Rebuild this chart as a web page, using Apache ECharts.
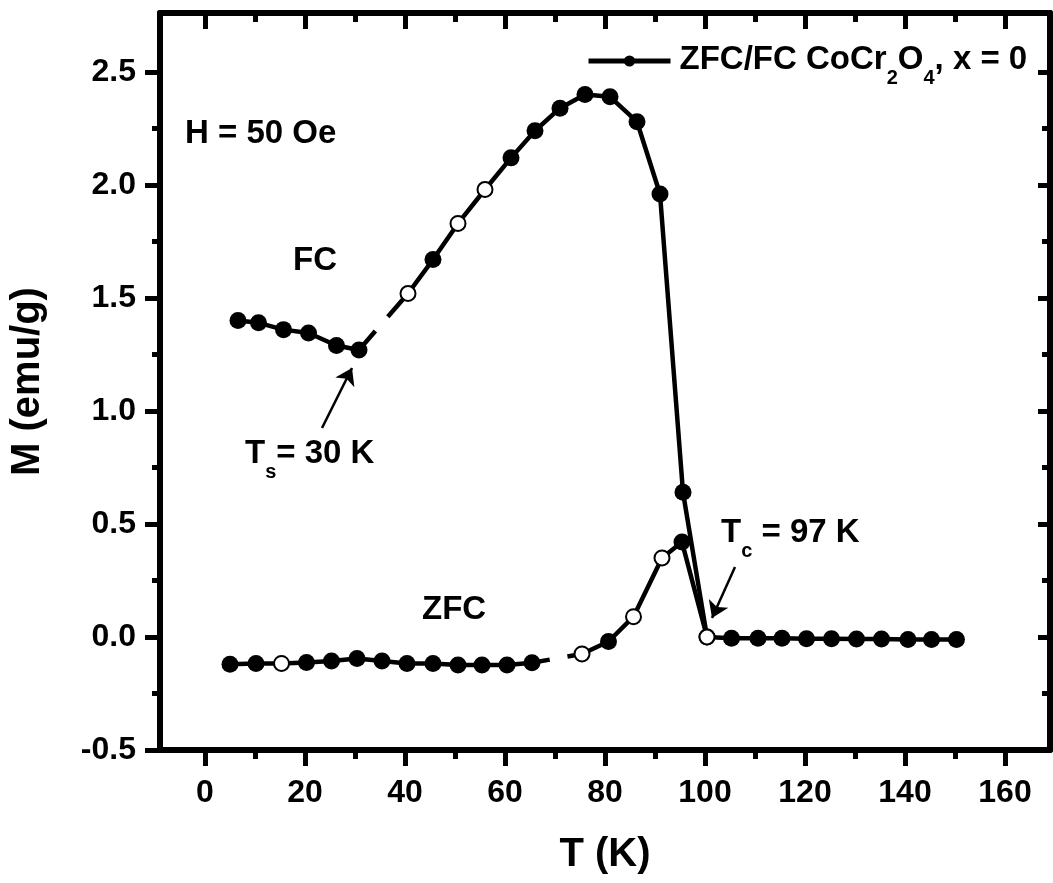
<!DOCTYPE html>
<html>
<head>
<meta charset="utf-8">
<script src="https://cdn.jsdelivr.net/npm/echarts@6/dist/echarts.min.js"></script>
<style>
  html, body { margin: 0; padding: 0; background: #fff; }
  #main { width: 1053px; height: 883px; }
</style>
</head>
<body>
<div id="main"></div>
<script>
// FC branch (T in K, M in emu/g)
var tempFC = [6.6, 10.7, 15.7, 20.7, 26.3, 30.8, 40.6, 45.6, 50.6, 56.0, 61.2, 66.0, 71.0, 76.0, 81.0, 86.4, 91.0, 95.6, 100.4];
var magFC  = [1.40, 1.39, 1.36, 1.345, 1.29, 1.27, 1.52, 1.67, 1.83, 1.98, 2.12, 2.24, 2.34, 2.40, 2.39, 2.28, 1.96, 0.64, 0.0];
var openFC = [6, 8, 9];          // hollow looking markers

// ZFC branch
var tempZFC = [5.0, 10.2, 15.3, 20.3, 25.3, 30.4, 35.4, 40.4, 45.6, 50.6, 55.4, 60.4, 65.4, 75.4, 80.7, 85.7, 91.4, 95.4, 100.4];
var magZFC  = [-0.121, -0.117, -0.117, -0.113, -0.106, -0.095, -0.106, -0.117, -0.117, -0.124, -0.124, -0.124, -0.114, -0.075, -0.02, 0.09, 0.35, 0.42, 0.0];
var openZFC = [2, 13, 15, 16, 18];

// paramagnetic tail above Tc
var tempTail = [105.3, 110.6, 115.4, 120.3, 125.3, 130.3, 135.3, 140.6, 145.3, 150.3];
var magTail  = [-0.006, -0.006, -0.006, -0.008, -0.008, -0.009, -0.009, -0.011, -0.011, -0.011];

// ticks
var xTicks = [0, 20, 40, 60, 80, 100, 120, 140, 160];
var xMinor = [10, 30, 50, 70, 90, 110, 130, 150];
var yTicks = [-0.5, 0, 0.5, 1.0, 1.5, 2.0, 2.5];
var yMinor = [-0.25, 0.25, 0.75, 1.25, 1.75, 2.25];

// arrows (data coords)
var arrowTs = [[23.4, 0.925], [29.4, 1.19]];
var arrowTc = [[106.0, 0.31], [101.4, 0.084]];

var FONT = 'Liberation Sans, Arial, sans-serif';
var seriesName = 'ZFC/FC CoCr2O4, x = 0';

function pts(ts, ms, open) {
  return ts.map(function (t, i) {
    if (open.indexOf(i) >= 0) {
      return { value: [t, ms[i]], symbolSize: 15,
        itemStyle: { color: '#fff', borderColor: '#000', borderWidth: 2 } };
    }
    return { value: [t, ms[i]] };
  });
}

var fcData = pts(tempFC, magFC, openFC);
fcData.splice(6, 0, { value: [tempFC[5], '-'] });   // broken segment, drawn dashed below
var zfcData = pts(tempZFC, magZFC, openZFC);
zfcData.splice(13, 0, { value: [tempZFC[12], '-'] });
zfcData = zfcData.concat(pts(tempTail, magTail, []));

function axisX(pos, ticks, len, inside, labels, line) {
  return {
    type: 'value', position: pos, min: -9, max: 169,
    axisLine: { show: line, onZero: false, lineStyle: { color: '#000', width: 6 } },
    axisTick: { show: true, inside: inside, length: len, customValues: ticks, lineStyle: { color: '#000', width: 5 } },
    axisLabel: { show: labels, customValues: ticks, color: '#000', fontFamily: FONT, fontWeight: 'bold', fontSize: 32, margin: 27 },
    splitLine: { show: false }
  };
}
function axisY(pos, ticks, len, inside, labels, line) {
  return {
    type: 'value', position: pos, min: -0.5, max: 2.761,
    axisLine: { show: line, onZero: false, lineStyle: { color: '#000', width: 6 } },
    axisTick: { show: true, inside: inside, length: len, customValues: ticks, lineStyle: { color: '#000', width: 5 } },
    axisLabel: { show: labels, customValues: ticks, color: '#000', fontFamily: FONT, fontWeight: 'bold', fontSize: 32, margin: 24,
      formatter: function (v) { return v.toFixed(1); } },
    splitLine: { show: false }
  };
}

var xMain = axisX('bottom', xTicks, 16, false, true, true);
xMain.name = 'T (K)';
xMain.nameLocation = 'middle';
xMain.nameGap = 85;
xMain.nameTextStyle = { color: '#000', fontFamily: FONT, fontWeight: 'bold', fontSize: 40 };

var yMain = axisY('left', yTicks, 15, false, true, true);
yMain.name = 'M (emu/g)';
yMain.nameLocation = 'middle';
yMain.nameGap = 112;
yMain.nameTextStyle = { color: '#000', fontFamily: FONT, fontWeight: 'bold', fontSize: 40 };

var sub = { fontFamily: FONT, fontWeight: 'bold', fontSize: 20, color: '#000', verticalAlign: 'top', lineHeight: 20, padding: [25, 0, 0, 0] };
var big = { fontFamily: FONT, fontWeight: 'bold', fontSize: 33, color: '#000', verticalAlign: 'top', lineHeight: 36 };

var option = {
  animation: false,
  backgroundColor: '#fff',
  grid: { left: 160, right: 3, top: 13, bottom: 133 },
  legend: {
    data: [seriesName],
    left: 581, top: 38,
    itemWidth: 82, itemHeight: 14,
    lineStyle: { width: 5, color: '#000' },
    itemStyle: { color: '#000' },
    textStyle: { rich: { a: big, s: sub }, padding: [0, 0, 0, 4] },
    formatter: function () { return '{a|ZFC/FC CoCr}{s|2}{a|O}{s|4}{a|, x = 0}'; }
  },
  xAxis: [
    xMain,
    axisX('bottom', xMinor, 9, false, false, false),
    axisX('top', xTicks, 16, true, false, true),
    axisX('top', xMinor, 9, true, false, false)
  ],
  yAxis: [
    yMain,
    axisY('left', yMinor, 8, false, false, false),
    axisY('right', yTicks, 12, true, false, true),
    axisY('right', yMinor, 8, true, false, false)
  ],
  series: [
    {
      type: 'line', silent: true, symbol: 'none',
      data: [[tempFC[5], magFC[5]], [tempFC[6], magFC[6]]],
      lineStyle: { color: '#000', width: 4.5, type: [25, 19, 300] },
      markLine: {
        silent: true, symbol: ['none', 'arrow'], symbolSize: 16,
        label: { show: false },
        lineStyle: { color: '#000', width: 2.5, type: 'solid' },
        itemStyle: { color: '#000' },
        data: [
          [{ coord: arrowTs[0] }, { coord: arrowTs[1] }],
          [{ coord: arrowTc[0] }, { coord: arrowTc[1] }]
        ]
      }
    },
    {
      type: 'line', silent: true, symbol: 'none',
      data: [[tempZFC[12], magZFC[12]], [tempZFC[13], magZFC[13]]],
      lineStyle: { color: '#000', width: 4.5, type: [18, 18, 300] }
    },
    {
      name: seriesName, type: 'line', data: fcData,
      symbol: 'circle', symbolSize: 17, showAllSymbol: true, connectNulls: false,
      lineStyle: { color: '#000', width: 4.5 },
      itemStyle: { color: '#000' }
    },
    {
      name: 'ZFC', type: 'line', data: zfcData,
      symbol: 'circle', symbolSize: 17, showAllSymbol: true, connectNulls: false,
      lineStyle: { color: '#000', width: 4.5 },
      itemStyle: { color: '#000' }
    }
  ],
  graphic: [
    { type: 'text', left: 185, top: 117, style: { text: 'H = 50 Oe', font: 'bold 33px ' + FONT, fill: '#000' } },
    { type: 'text', left: 293, top: 244, style: { text: 'FC', font: 'bold 33px ' + FONT, fill: '#000' } },
    { type: 'text', left: 422, top: 593, style: { text: 'ZFC', font: 'bold 33px ' + FONT, fill: '#000' } },
    { type: 'text', left: 245, top: 437, style: { text: '{a|T}{s|s}{a|= 30 K}', rich: { a: big, s: sub } } },
    { type: 'text', left: 721, top: 516, style: { text: '{a|T}{s|c}{a| = 97 K}', rich: { a: big, s: sub } } }
  ]
};

var chart = echarts.init(document.getElementById('main'));
chart.setOption(option);
</script>
</body>
</html>
